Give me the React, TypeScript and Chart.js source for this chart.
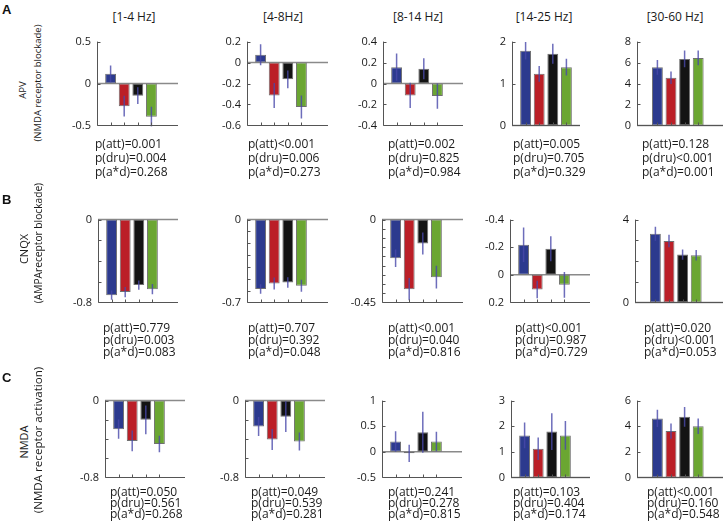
import React, { useEffect, useRef } from 'react';
import { Chart, registerables } from 'chart.js';

Chart.register(...registerables);

// ---------------- DATA ----------------
const bandLabels = ['[1-4 Hz]', '[4-8Hz]', '[8-14 Hz]', '[14-25 Hz]', '[30-60 Hz]'];
const barPositions = [1, 2, 3, 4];

// Row A: APV (NMDA receptor blockade)
const apvMeans = [
  [0.115, -0.27, -0.146, -0.396],
  [0.075, -0.315, -0.16, -0.425],
  [0.156, -0.114, 0.14, -0.12],
  [1.78, 1.23, 1.71, 1.39],
  [5.54, 4.55, 6.35, 6.44],
];
const apvErrors = [
  [0.1, 0.125, 0.1, 0.12],
  [0.1, 0.12, 0.085, 0.11],
  [0.13, 0.12, 0.1, 0.12],
  [0.21, 0.19, 0.24, 0.2],
  [0.7, 0.6, 0.8, 0.7],
];
const apvTicks = [
  [-0.5, 0, 0.5],
  [-0.6, -0.4, -0.2, 0, 0.2],
  [-0.4, -0.2, 0, 0.2, 0.4],
  [0, 1, 2],
  [0, 2, 4, 6, 8],
];
const apvTickLabels = apvTicks;
const apvReversed = [false, false, false, false, false];
const apvPValues = [
  ['p(att)=0.001', 'p(dru)=0.004', 'p(a*d)=0.268'],
  ['p(att)<0.001', 'p(dru)=0.006', 'p(a*d)=0.273'],
  ['p(att)=0.002', 'p(dru)=0.825', 'p(a*d)=0.984'],
  ['p(att)=0.005', 'p(dru)=0.705', 'p(a*d)=0.329'],
  ['p(att)=0.128', 'p(dru)<0.001', 'p(a*d)=0.001'],
];

// Row B: CNQX (AMPA receptor blockade)
const cnqxMeans = [
  [-0.73, -0.7, -0.633, -0.672],
  [-0.586, -0.54, -0.532, -0.559],
  [-0.21, -0.378, -0.13, -0.313],
  [-0.218, 0.107, -0.189, 0.073],
  [3.32, 2.97, 2.31, 2.28],
];
const cnqxErrors = [
  [0.045, 0.05, 0.045, 0.05],
  [0.04, 0.05, 0.045, 0.05],
  [0.048, 0.06, 0.06, 0.062],
  [0.125, 0.063, 0.09, 0.093],
  [0.34, 0.3, 0.25, 0.25],
];
const cnqxTicks = [
  [-0.8, -0.6, -0.4, -0.2, 0],
  [-0.7, -0.6, -0.5, -0.4, -0.3, -0.2, -0.1, 0],
  [-0.45, -0.4, -0.35, -0.3, -0.25, -0.2, -0.15, -0.1, -0.05, 0],
  [-0.4, -0.2, 0, 0.2],
  [0, 1, 2, 3, 4],
];
const cnqxTickLabels = [
  [-0.8, 0],
  [-0.7, 0],
  [-0.45, 0],
  [-0.4, -0.2, 0, 0.2],
  [0, 4],
];
const cnqxReversed = [false, false, false, true, false];
const cnqxPValues = [
  ['p(att)=0.779', 'p(dru)=0.003', 'p(a*d)=0.083'],
  ['p(att)=0.707', 'p(dru)=0.392', 'p(a*d)=0.048'],
  ['p(att)<0.001', 'p(dru)=0.040', 'p(a*d)=0.816'],
  ['p(att)<0.001', 'p(dru)=0.987', 'p(a*d)=0.729'],
  ['p(att)=0.020', 'p(dru)<0.001', 'p(a*d)=0.053'],
];

// Row C: NMDA (NMDA receptor activation)
const nmdaMeans = [
  [-0.298, -0.42, -0.2, -0.453],
  [-0.27, -0.405, -0.168, -0.427],
  [0.2, -0.03, 0.38, 0.2],
  [1.64, 1.12, 1.79, 1.64],
  [4.61, 3.62, 4.73, 4.0],
];
const nmdaErrors = [
  [0.1, 0.108, 0.15, 0.086],
  [0.1, 0.11, 0.16, 0.094],
  [0.2, 0.17, 0.4, 0.19],
  [0.5, 0.44, 0.72, 0.56],
  [0.67, 0.6, 0.77, 0.6],
];
const nmdaTicks = [
  [-0.8, -0.6, -0.4, -0.2, 0],
  [-0.8, -0.6, -0.4, -0.2, 0],
  [-0.5, 0, 0.5, 1],
  [0, 1, 2, 3],
  [0, 2, 4, 6],
];
const nmdaTickLabels = [
  [-0.8, 0],
  [-0.8, 0],
  [-0.5, 0, 0.5, 1],
  [0, 1, 2, 3],
  [0, 2, 4, 6],
];
const nmdaReversed = [false, false, false, false, false];
const nmdaPValues = [
  ['p(att)=0.050', 'p(dru)=0.561', 'p(a*d)=0.268'],
  ['p(att)=0.049', 'p(dru)=0.539', 'p(a*d)=0.281'],
  ['p(att)=0.241', 'p(dru)=0.278', 'p(a*d)=0.815'],
  ['p(att)=0.103', 'p(dru)=0.404', 'p(a*d)=0.174'],
  ['p(att)<0.001', 'p(dru)=0.160', 'p(a*d)=0.548'],
];

const rowLetters = ['A', 'B', 'C'];
const rowDrugs = ['APV', 'CNQX', 'NMDA'];
const rowDescriptions = ['(NMDA receptor blockade)', '(AMPAreceptor blockade)', '(NMDA receptor activation)'];

// ---------------- STYLE / LAYOUT ----------------
const barColors = ['#2c3a8e', '#bb1f27', '#131313', '#6ba632'];
const errorColor = 'rgba(72,72,170,0.8)';
const FONT = '"Open Sans", "DejaVu Sans", sans-serif';
const AXIS_W = 40;
const PAD_T = 10;
const PAD_B = 10;
const PAD_R = 4;
const PX_PER_UNIT = 13.6;
const colXMin = [0, 0, 0, 0, -0.5];

const rowLayout = [
  {
    top: 39, bottom: 128,
    lefts: [97, 247, 383, 512, 637], rights: [178, 328, 463, 580, 723],
    textLefts: [95, 248, 388, 513, 642], textTop: 137, lineH: 14,
    letterTop: 3, labelCenters: [90, 83], labelSizes: [9.5, 9.5],
  },
  {
    top: 217, bottom: 305,
    lefts: [98, 247, 382, 510, 635], rights: [178, 328, 463, 590, 723],
    textLefts: [103, 248, 388, 515, 644], textTop: 322, lineH: 12,
    letterTop: 193, labelCenters: [249, 243], labelSizes: [11, 10.2],
  },
  {
    top: 398, bottom: 480,
    lefts: [105, 245, 382, 511, 637], rights: [185, 325, 462, 590, 723],
    textLefts: [110, 251, 388, 513, 647], textTop: 485.5, lineH: 11,
    letterTop: 371, labelCenters: [442, 440], labelSizes: [11, 11.6],
  },
];
const titleCenters = [134, 283, 418, 544, 675];

const rows = [
  { means: apvMeans, errors: apvErrors, ticks: apvTicks, labels: apvTickLabels, reversed: apvReversed, pvals: apvPValues },
  { means: cnqxMeans, errors: cnqxErrors, ticks: cnqxTicks, labels: cnqxTickLabels, reversed: cnqxReversed, pvals: cnqxPValues },
  { means: nmdaMeans, errors: nmdaErrors, ticks: nmdaTicks, labels: nmdaTickLabels, reversed: nmdaReversed, pvals: nmdaPValues },
];

type PanelProps = {
  means: number[];
  errors: number[];
  ticks: number[];
  labels: number[];
  reversed: boolean;
  xMin: number;
  xMax: number;
  left: number;
  top: number;
  width: number;
  height: number;
};

function Panel(props: PanelProps) {
  const ref = useRef<HTMLCanvasElement>(null);
  useEffect(() => {
    const { means, errors, ticks, labels, reversed, xMin, xMax } = props;
    const yMin = Math.min(...ticks);
    const yMax = Math.max(...ticks);
    const line = (ctx: CanvasRenderingContext2D, x1: number, y1: number, x2: number, y2: number) => {
      ctx.beginPath();
      ctx.moveTo(x1, y1);
      ctx.lineTo(x2, y2);
      ctx.stroke();
    };
    const plugin = {
      id: 'panelDecor',
      beforeDatasetsDraw(chart: any) {
        const { ctx, chartArea, scales } = chart;
        const y0 = scales.y.getPixelForValue(0);
        ctx.save();
        ctx.strokeStyle = '#8a8a8a';
        ctx.lineWidth = 1.5;
        line(ctx, chartArea.left, y0, chartArea.right, y0);
        ctx.restore();
      },
      afterDatasetsDraw(chart: any) {
        const { ctx, chartArea, scales } = chart;
        const { left, right, top, bottom } = chartArea;
        ctx.save();
        ctx.beginPath();
        ctx.rect(left, top, right - left, bottom - top + 1);
        ctx.clip();
        ctx.strokeStyle = errorColor;
        ctx.lineWidth = 1.5;
        barPositions.forEach((p, i) => {
          const xp = scales.x.getPixelForValue(p);
          line(ctx, xp, scales.y.getPixelForValue(means[i] - errors[i]), xp, scales.y.getPixelForValue(means[i] + errors[i]));
        });
        ctx.restore();

        ctx.save();
        ctx.strokeStyle = '#555';
        ctx.lineWidth = 1;
        const lx = Math.round(left) + 0.5;
        const by = Math.round(bottom) + 0.5;
        line(ctx, lx, top, lx, by);
        line(ctx, lx, by, right, by);
        ticks.forEach((t) => {
          const yp = Math.round(scales.y.getPixelForValue(t)) + 0.5;
          line(ctx, lx, yp, lx + 3, yp);
        });
        barPositions.forEach((p) => {
          const xp = Math.round(scales.x.getPixelForValue(p)) + 0.5;
          line(ctx, xp, by, xp, by - 3);
        });
        ctx.restore();
      },
    };
    const chart = new Chart(ref.current as HTMLCanvasElement, {
      type: 'bar',
      data: {
        datasets: [
          {
            data: barPositions.map((p, i) => ({ x: p, y: means[i] })) as any,
            backgroundColor: barColors,
            borderColor: '#707070',
            borderWidth: 1,
            borderSkipped: false,
            barPercentage: 0.8,
            categoryPercentage: 1,
          },
        ],
      },
      options: {
        responsive: false,
        maintainAspectRatio: false,
        animation: false,
        events: [],
        layout: { padding: { top: PAD_T, bottom: PAD_B, left: 0, right: PAD_R } },
        plugins: { legend: { display: false }, tooltip: { enabled: false } },
        scales: {
          x: { type: 'linear', min: xMin, max: xMax, display: false, offset: false },
          y: {
            type: 'linear',
            min: yMin,
            max: yMax,
            reverse: reversed,
            afterFit: (s: any) => { s.width = AXIS_W; },
            afterBuildTicks: (s: any) => { s.ticks = ticks.map((v) => ({ value: v })); },
            grid: { display: false, drawTicks: false },
            border: { display: false },
            ticks: {
              padding: 6,
              autoSkip: false,
              color: '#1a1a1a',
              font: { family: FONT, size: 11 },
              callback: (v: any) => (labels.includes(v) ? String(v) : ''),
            },
          },
        },
      } as any,
      plugins: [plugin],
    });
    return () => chart.destroy();
  }, []);
  return (
    <canvas
      ref={ref}
      width={props.width}
      height={props.height}
      style={{ position: 'absolute', left: props.left, top: props.top, width: props.width, height: props.height }}
    />
  );
}

export default function App() {
  const items: any[] = [];
  rows.forEach((row, r) => {
    const g = rowLayout[r];
    items.push(
      <div key={`L${r}`} style={{ position: 'absolute', left: 2, top: g.letterTop, font: `bold 13px "Liberation Sans", Arial, sans-serif`, lineHeight: '13px', color: '#111' }}>
        {rowLetters[r]}
      </div>
    );
    items.push(
      <div key={`D${r}`} style={{ position: 'absolute', left: 22.5, top: g.labelCenters[0], transform: 'translate(-50%,-50%) rotate(-90deg)', whiteSpace: 'nowrap', font: `${g.labelSizes[0]}px ${FONT}`, lineHeight: 1, color: '#1a1a1a' }}>
        {rowDrugs[r]}
      </div>
    );
    items.push(
      <div key={`E${r}`} style={{ position: 'absolute', left: 37.5, top: g.labelCenters[1], transform: 'translate(-50%,-50%) rotate(-90deg)', whiteSpace: 'nowrap', font: `${g.labelSizes[1]}px ${FONT}`, lineHeight: 1, color: '#1a1a1a' }}>
        {rowDescriptions[r]}
      </div>
    );
    for (let c = 0; c < 5; c++) {
      const L = g.lefts[c];
      const R = g.rights[c];
      const xMin = colXMin[c];
      const xMax = xMin + (R - L) / PX_PER_UNIT;
      items.push(
        <Panel
          key={`P${r}-${c}`}
          means={row.means[c]}
          errors={row.errors[c]}
          ticks={row.ticks[c]}
          labels={row.labels[c]}
          reversed={row.reversed[c]}
          xMin={xMin}
          xMax={xMax}
          left={L - AXIS_W}
          top={g.top - PAD_T}
          width={R - L + AXIS_W + PAD_R}
          height={g.bottom - g.top + PAD_T + PAD_B}
        />
      );
      items.push(
        <div key={`T${r}-${c}`} style={{ position: 'absolute', left: g.textLefts[c], top: g.textTop, font: `12px ${FONT}`, lineHeight: `${g.lineH}px`, whiteSpace: 'pre', color: '#1a1a1a' }}>
          {row.pvals[c].join('\n')}
        </div>
      );
    }
  });
  bandLabels.forEach((b, c) => {
    items.push(
      <div key={`B${c}`} style={{ position: 'absolute', left: titleCenters[c], top: 17, transform: 'translate(-50%,-50%)', whiteSpace: 'nowrap', font: `12px ${FONT}`, lineHeight: '16px', color: '#1a1a1a' }}>
        {b}
      </div>
    );
  });
  return (
    <div style={{ position: 'absolute', left: 0, top: 0, width: 726, height: 522, overflow: 'hidden', background: '#fff' }}>
      {items}
    </div>
  );
}
